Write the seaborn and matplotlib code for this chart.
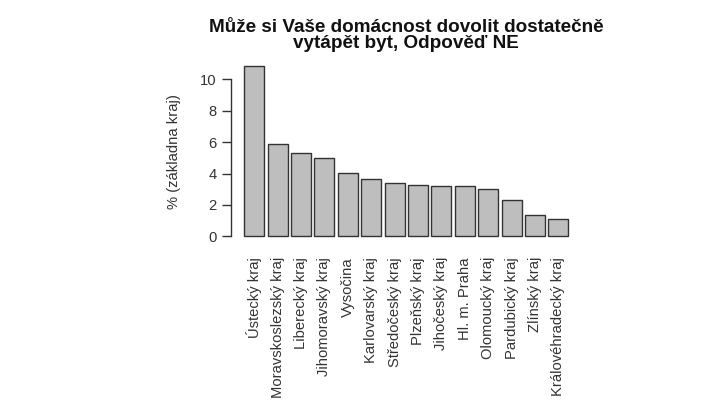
import matplotlib
matplotlib.use("Agg")
import matplotlib.pyplot as plt
import seaborn as sns
import pandas as pd

regions = ["Ústecký kraj", "Moravskoslezský kraj", "Liberecký kraj",
           "Jihomoravský kraj", "Vysočina", "Karlovarský kraj",
           "Středočeský kraj", "Plzeňský kraj", "Jihočeský kraj",
           "Hl. m. Praha", "Olomoucký kraj", "Pardubický kraj",
           "Zlínský kraj", "Královéhradecký kraj"]
values = [10.87, 5.91, 5.32, 5.0, 4.06, 3.68, 3.38, 3.26, 3.19, 3.19,
          3.02, 2.30, 1.36, 1.11]
y_ticks = [0, 2, 4, 6, 8, 10]
title_lines = ["Může si Vaše domácnost dovolit dostatečně",
               "vytápět byt, Odpověď NE"]

df = pd.DataFrame({"kraj": regions, "pct": values})

sns.set_theme(style="white")
plt.rcParams["font.family"] = ["Liberation Sans", "DejaVu Sans"]

fig = plt.figure(figsize=(7.12, 4.0), dpi=100)
ax = fig.add_axes([0.3251, 0.392, 0.491, 0.4605])

sns.barplot(data=df, x="kraj", y="pct", color="#bebebe", saturation=1,
            width=0.855, edgecolor="#333333", linewidth=1.0, ax=ax)

ax.set_xlim(-0.97, 13.97)
ax.set_ylim(-0.435, 11.3)
for s in ["top", "right", "bottom"]:
    ax.spines[s].set_visible(False)
ax.spines["left"].set_bounds(0, 10)
ax.spines["left"].set_color("#333333")
ax.spines["left"].set_linewidth(1.0)

ax.set_yticks(y_ticks)
ax.set_yticklabels([str(t) for t in y_ticks], fontsize=10.6, color="#333333")
ax.tick_params(axis="y", left=True, length=6.5, width=1.0, color="#333333", pad=4)
ax.tick_params(axis="x", bottom=False, pad=4)
ax.set_xticks(range(len(regions)))
ax.set_xticklabels(regions, rotation=90, fontsize=10.6, color="#333333", va="top")

ax.set_xlabel("")
ax.set_ylabel("% (základna kraj)", fontsize=10.6, color="#333333", labelpad=14)

fig.text(0.5705, 1 - 32 / 400, title_lines[0], ha="center", va="baseline",
         fontsize=13.6, fontweight="bold", color="#111111")
fig.text(0.5705, 1 - 48.5 / 400, title_lines[1], ha="center", va="baseline",
         fontsize=13.6, fontweight="bold", color="#111111")

fig.savefig("out.png", dpi=100)
